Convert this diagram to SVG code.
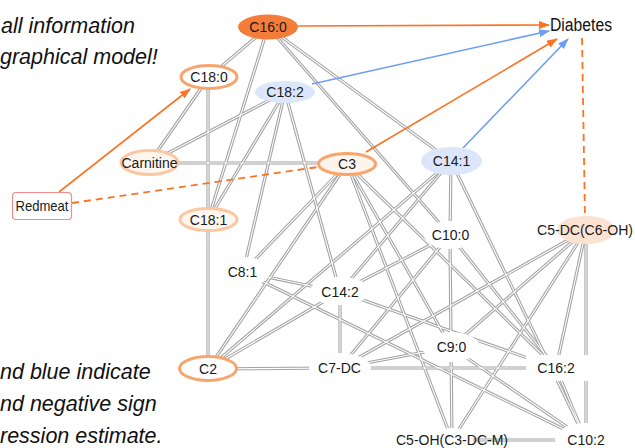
<svg xmlns="http://www.w3.org/2000/svg" xmlns:xlink="http://www.w3.org/1999/xlink" width="635" height="448" viewBox="0 0 635 448">
  <style>
    .caption { font-family: "Liberation Sans", Arial, sans-serif; font-style: italic; font-size: 21.5px; fill: #111; }
    .lbl { font-family: "Liberation Sans", Arial, sans-serif; font-size: 14px; fill: #1a1a1a; text-anchor: middle; }
    .edge-outer { stroke: #a2a2a2; stroke-width: 3.2; fill: none; }
    .edge-inner { stroke: #ffffff; stroke-width: 1.1; fill: none; }
    .pos { stroke: #fb7424; stroke-width: 1.6; fill: none; }
    .neg { stroke: #6e9ef3; stroke-width: 1.6; fill: none; }
    .dash { stroke: #fb7424; stroke-width: 1.8; fill: none; stroke-dasharray: 7 5; }
    .bg { fill: #ffffff; stroke: none; }
    .ring { fill: #ffffff; stroke: #f8a56d; stroke-width: 3; }
    .ring-light { fill: #fff6f0; stroke: #fcc6a0; stroke-width: 3; }
    .blue { fill: #dce6fb; stroke: none; }
  </style>
  <defs>
    <marker id="arrow-pos" markerUnits="userSpaceOnUse" markerWidth="11" markerHeight="8" refX="10" refY="4" orient="auto">
      <path d="M0,0 L11,4 L0,8 z" fill="#fb7424"/>
    </marker>
    <marker id="arrow-neg" markerUnits="userSpaceOnUse" markerWidth="11" markerHeight="8" refX="10" refY="4" orient="auto">
      <path d="M0,0 L11,4 L0,8 z" fill="#6e9ef3"/>
    </marker>
    <!-- undirected dependencies, drawn twice for the double-line look -->
    <g id="edge-set">
      <line x1="268" y1="27" x2="209" y2="77"/>
      <line x1="268" y1="27" x2="208" y2="220"/>
      <line x1="268" y1="27" x2="451" y2="161"/>
      <line x1="268" y1="27" x2="450" y2="235"/>
      <line x1="209" y1="77" x2="149" y2="163"/>
      <line x1="208" y1="77" x2="208" y2="220"/>
      <line x1="285" y1="92" x2="149" y2="163"/>
      <line x1="285" y1="92" x2="208" y2="220"/>
      <line x1="285" y1="92" x2="243" y2="272"/>
      <line x1="285" y1="92" x2="340" y2="292"/>
      <line x1="149" y1="163" x2="347" y2="163"/>
      <line x1="208" y1="220" x2="208" y2="369"/>
      <line x1="347" y1="164" x2="243" y2="272"/>
      <line x1="347" y1="164" x2="208" y2="369"/>
      <line x1="347" y1="164" x2="451" y2="347"/>
      <line x1="347" y1="164" x2="452" y2="440"/>
      <line x1="347" y1="164" x2="556" y2="368"/>
      <line x1="451" y1="161" x2="450" y2="235"/>
      <line x1="451" y1="161" x2="586" y2="440"/>
      <line x1="451" y1="161" x2="208" y2="369"/>
      <line x1="451" y1="161" x2="340" y2="292"/>
      <line x1="450" y1="235" x2="451" y2="347"/>
      <line x1="450" y1="235" x2="340" y2="292"/>
      <line x1="450" y1="235" x2="340" y2="368"/>
      <line x1="450" y1="235" x2="556" y2="368"/>
      <line x1="586" y1="230" x2="340" y2="368"/>
      <line x1="586" y1="230" x2="451" y2="347"/>
      <line x1="586" y1="230" x2="452" y2="440"/>
      <line x1="586" y1="230" x2="556" y2="368"/>
      <line x1="586" y1="230" x2="586" y2="440"/>
      <line x1="340" y1="292" x2="243" y2="272"/>
      <line x1="340" y1="292" x2="340" y2="368"/>
      <line x1="340" y1="292" x2="556" y2="368"/>
      <line x1="340" y1="292" x2="208" y2="369"/>
      <line x1="243" y1="272" x2="586" y2="440"/>
      <line x1="451" y1="347" x2="586" y2="440"/>
      <line x1="451" y1="347" x2="452" y2="440"/>
      <line x1="451" y1="347" x2="340" y2="368"/>
      <line x1="340" y1="368" x2="556" y2="368"/>
      <line x1="340" y1="368" x2="208" y2="369"/>
      <line x1="556" y1="368" x2="586" y2="440"/>
      <line x1="452" y1="440" x2="586" y2="440"/>
    </g>
  </defs>

  <rect width="635" height="448" fill="#ffffff"/>

  <!-- side captions -->
  <text class="caption" x="1" y="33">all information</text>
  <text class="caption" x="0" y="64">graphical model!</text>
  <text class="caption" x="0" y="379">nd blue indicate</text>
  <text class="caption" x="0" y="411">nd negative sign</text>
  <text class="caption" x="0" y="443">ression estimate.</text>

  <g id="connectors">
    <use xlink:href="#edge-set" href="#edge-set" class="edge-outer"/>
    <use xlink:href="#edge-set" href="#edge-set" class="edge-inner"/>
    <line class="pos" x1="298" y1="26" x2="549" y2="25" marker-end="url(#arrow-pos)"/>
    <line class="neg" x1="312" y1="84" x2="549" y2="31" marker-end="url(#arrow-neg)"/>
    <line class="pos" x1="366" y1="152" x2="557" y2="39" marker-end="url(#arrow-pos)"/>
    <line class="neg" x1="463" y1="148" x2="568" y2="39" marker-end="url(#arrow-neg)"/>
    <line class="pos" x1="59" y1="192" x2="190" y2="89" marker-end="url(#arrow-pos)"/>
    <line class="dash" x1="72" y1="203" x2="318" y2="167"/>
    <line class="dash" x1="582" y1="38" x2="585" y2="217"/>
  </g>

  <g id="node-C16-0">
    <ellipse cx="268" cy="27" rx="30" ry="12.5" fill="#f57d3c"/>
    <text class="lbl" x="268" y="32">C16:0</text>
  </g>
  <g id="node-Diabetes">
    <text x="550" y="31" font-family="Liberation Sans, Arial, sans-serif" font-size="18" fill="#111" textLength="62" lengthAdjust="spacingAndGlyphs">Diabetes</text>
  </g>
  <g id="node-C18-0">
    <ellipse class="ring" cx="209" cy="77" rx="28" ry="11.5"/>
    <text class="lbl" x="209" y="82">C18:0</text>
  </g>
  <g id="node-C18-2">
    <ellipse class="blue" cx="285" cy="92" rx="30" ry="11"/>
    <text class="lbl" x="285" y="97">C18:2</text>
  </g>
  <g id="node-Carnitine">
    <ellipse class="ring-light" cx="149.5" cy="162.5" rx="28.5" ry="12"/>
    <text class="lbl" x="149.5" y="168">Carnitine</text>
  </g>
  <g id="node-C3">
    <ellipse class="ring" cx="347" cy="164" rx="28.5" ry="10.5" style="fill:#fff4ec"/>
    <text class="lbl" x="347" y="169">C3</text>
  </g>
  <g id="node-C14-1">
    <ellipse class="blue" cx="451.5" cy="161" rx="30.5" ry="14"/>
    <text class="lbl" x="451.5" y="166">C14:1</text>
  </g>
  <g id="node-Redmeat">
    <rect x="12.5" y="192.5" width="59" height="27" rx="3.5" fill="#ffffff" stroke="#f08c8c" stroke-width="1.2"/>
    <text x="42" y="211" font-family="Liberation Sans, Arial, sans-serif" font-size="15" fill="#1a1a1a" text-anchor="middle" textLength="53" lengthAdjust="spacingAndGlyphs">Redmeat</text>
  </g>
  <g id="node-C18-1">
    <ellipse class="ring-light" cx="208.5" cy="219.5" rx="28.5" ry="11"/>
    <text class="lbl" x="208.5" y="225">C18:1</text>
  </g>
  <g id="node-C10-0">
    <ellipse class="bg" cx="450" cy="235" rx="26" ry="14"/>
    <text class="lbl" x="450.5" y="240">C10:0</text>
  </g>
  <g id="node-C5-DC">
    <ellipse cx="586" cy="230" rx="29" ry="14" fill="#fce2d0"/>
    <text x="537" y="235" font-family="Liberation Sans, Arial, sans-serif" font-size="14" fill="#1a1a1a" textLength="96" lengthAdjust="spacingAndGlyphs">C5-DC(C6-OH)</text>
  </g>
  <g id="node-C8-1">
    <ellipse class="bg" cx="243" cy="272" rx="27" ry="15"/>
    <text class="lbl" x="242.5" y="277">C8:1</text>
  </g>
  <g id="node-C14-2">
    <ellipse class="bg" cx="340" cy="291" rx="30" ry="14"/>
    <text class="lbl" x="340" y="297">C14:2</text>
  </g>
  <g id="node-C9-0">
    <ellipse class="bg" cx="451" cy="347" rx="29" ry="15"/>
    <text class="lbl" x="451.5" y="352">C9:0</text>
  </g>
  <g id="node-C2">
    <ellipse class="ring" cx="208" cy="368.5" rx="28.5" ry="12"/>
    <text class="lbl" x="208" y="374">C2</text>
  </g>
  <g id="node-C7-DC">
    <ellipse class="bg" cx="340" cy="368" rx="31" ry="15"/>
    <text class="lbl" x="339.5" y="373">C7-DC</text>
  </g>
  <g id="node-C16-2">
    <rect class="bg" x="526" y="355" width="62" height="26"/>
    <text class="lbl" x="556" y="373">C16:2</text>
  </g>
  <g id="node-C5-OH">
    <ellipse class="bg" cx="452" cy="440" rx="21" ry="12"/>
    <text class="lbl" x="452" y="445">C5-OH(C3-DC-M)</text>
  </g>
  <g id="node-C10-2">
    <ellipse class="bg" cx="586" cy="440" rx="31" ry="17"/>
    <text class="lbl" x="586" y="445">C10:2</text>
  </g>
</svg>
